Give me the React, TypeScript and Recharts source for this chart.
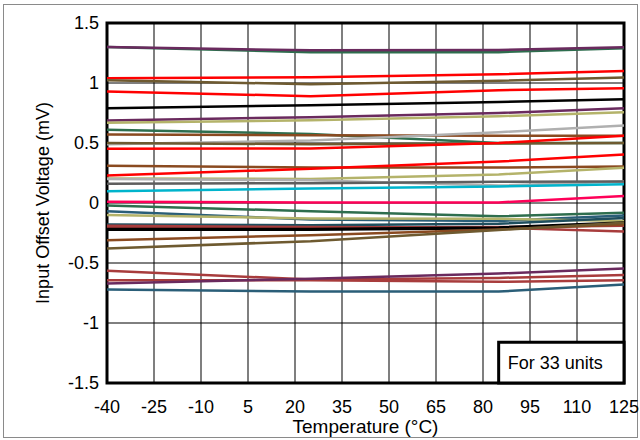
import React from 'react';
import { LineChart, Line, XAxis, YAxis, CartesianGrid, ReferenceArea } from 'recharts';

const temperatures = [-40, 25, 85, 125];
const xTicks = [-40, -25, -10, 5, 20, 35, 50, 65, 80, 95, 110, 125];
const yTicks = [-1.5, -1, -0.5, 0, 0.5, 1, 1.5];

const unit01 = [1.3, 1.257, 1.257, 1.29];
const unit02 = [1.3, 1.272, 1.275, 1.298];
const unit03 = [1.04, 1.048, 1.073, 1.1];
const unit04 = [1.023, 0.99, 1.018, 1.046];
const unit05 = [0.93, 0.89, 0.94, 0.957];
const unit06 = [0.79, 0.815, 0.842, 0.865];
const unit07 = [0.688, 0.715, 0.75, 0.79];
const unit08 = [0.668, 0.69, 0.723, 0.757];
const unit09 = [0.61, 0.575, 0.5, 0.5];
const unit10 = [0.57, 0.565, 0.56, 0.56];
const unit11 = [0.49, 0.52, 0.59, 0.646];
const unit12 = [0.5, 0.49, 0.495, 0.5];
const unit13 = [0.452, 0.455, 0.5, 0.56];
const unit14 = [0.31, 0.295, 0.295, 0.305];
const unit15 = [0.23, 0.285, 0.345, 0.405];
const unit16 = [0.204, 0.2, 0.238, 0.293];
const unit17 = [0.2, 0.19, 0.145, 0.18];
const unit18 = [0.16, 0.165, 0.177, 0.18];
const unit19 = [0.098, 0.121, 0.138, 0.157];
const unit20 = [0.01, 0.005, 0.005, 0.058];
const unit21 = [-0.021, -0.068, -0.11, -0.082];
const unit22 = [-0.068, -0.138, -0.15, -0.104];
const unit23 = [-0.1, -0.129, -0.132, -0.15];
const unit24 = [-0.18, -0.185, -0.173, -0.124];
const unit25 = [-0.19, -0.2, -0.207, -0.237];
const unit26 = [-0.2, -0.205, -0.2, -0.19];
const unit27 = [-0.22, -0.22, -0.207, -0.165];
const unit28 = [-0.31, -0.268, -0.22, -0.18];
const unit29 = [-0.379, -0.318, -0.225, -0.165];
const unit30 = [-0.565, -0.638, -0.624, -0.6];
const unit31 = [-0.643, -0.643, -0.657, -0.643];
const unit32 = [-0.67, -0.632, -0.588, -0.546];
const unit33 = [-0.72, -0.738, -0.738, -0.68];

const units = [
  unit01, unit02, unit03, unit04, unit05, unit06, unit07, unit08, unit09, unit10, unit11,
  unit12, unit13, unit14, unit15, unit16, unit17, unit18, unit19, unit20, unit21, unit22,
  unit23, unit24, unit25, unit26, unit27, unit28, unit29, unit30, unit31, unit32, unit33,
];

const PURPLE = '#6a2a5e';
const GREEN = '#2e6e4e';
const RED = '#ff0000';
const OLIVE = '#6e5a30';
const BLACK = '#000000';
const KHAKI = '#b4b36a';
const SIENNA = '#8a4a20';
const LGRAY = '#b0b0b0';
const DGRAY = '#5e5e5e';
const CYAN = '#00b4cc';
const PINK = '#ff0058';
const BLUE = '#2a5e78';
const TEAL = '#1e4e5e';
const MAROON = '#a83c3c';

const unitColors = [
  GREEN, PURPLE, RED, OLIVE, RED, BLACK, PURPLE, KHAKI, GREEN, SIENNA, LGRAY,
  OLIVE, RED, SIENNA, RED, KHAKI, LGRAY, DGRAY, CYAN, PINK, GREEN, BLUE,
  KHAKI, TEAL, MAROON, MAROON, BLACK, SIENNA, OLIVE, MAROON, MAROON, PURPLE, BLUE,
];

const data = temperatures.map((t, i) => {
  const row: Record<string, number> = { t };
  units.forEach((u, k) => {
    row['u' + (k + 1)] = u[i];
  });
  return row;
});

const FONT = '"Liberation Sans", Arial, sans-serif';

export default function App() {
  return (
    <div style={{ position: 'absolute', left: 0, top: 0, width: 640, height: 440, background: '#fff', fontFamily: FONT }}>
      <div
        style={{
          position: 'absolute',
          left: 3,
          top: 4,
          width: 635,
          height: 434,
          border: '1.5px solid #8a8a8a',
          boxSizing: 'border-box',
        }}
      />
      <div style={{ position: 'absolute', left: 0, top: 0 }}>
        <LineChart width={640} height={440} data={data} margin={{ top: 23, right: 16, left: 0, bottom: 0 }}>
          <CartesianGrid horizontal={false} stroke="#555" strokeWidth={1.5} />
          <CartesianGrid vertical={false} stroke="#000" strokeWidth={1} />
          <XAxis
            dataKey="t"
            type="number"
            domain={[-40, 125]}
            ticks={xTicks}
            interval={0}
            tickLine={false}
            axisLine={false}
            tickMargin={11}
            height={57}
            tick={{ fill: '#000', fontSize: 18, fontFamily: FONT }}
            label={{ value: 'Temperature (°C)', position: 'insideBottom', offset: 7, fill: '#000', fontSize: 19, fontFamily: FONT }}
          />
          <YAxis
            type="number"
            domain={[-1.5, 1.5]}
            ticks={yTicks}
            interval={0}
            width={107}
            tickLine={false}
            axisLine={false}
            tick={{ fill: '#000', fontSize: 18, fontFamily: FONT }}
            label={{
              value: 'Input Offset Voltage (mV)',
              angle: -90,
              position: 'insideLeft',
              offset: 43,
              fill: '#000',
              fontSize: 18,
              fontFamily: FONT,
              style: { textAnchor: 'middle' },
            }}
          />
          {units.map((_, k) => (
            <Line
              key={k}
              type="linear"
              dataKey={'u' + (k + 1)}
              stroke={unitColors[k]}
              strokeWidth={k === 26 ? 3.2 : 2.5}
              dot={false}
              activeDot={false}
              isAnimationActive={false}
            />
          ))}
          <ReferenceArea x1={-40} x2={125} y1={-1.5} y2={1.5} fill="none" stroke="#000" strokeWidth={3} />
          <ReferenceArea
            x1={85}
            x2={125}
            y1={-1.5}
            y2={-1.16}
            fill="#fff"
            fillOpacity={1}
            stroke="#000"
            strokeWidth={3}
            label={{ value: 'For 33 units', position: 'insideLeft', offset: 9, fill: '#000', fontSize: 18, fontFamily: FONT }}
          />
        </LineChart>
      </div>
    </div>
  );
}
